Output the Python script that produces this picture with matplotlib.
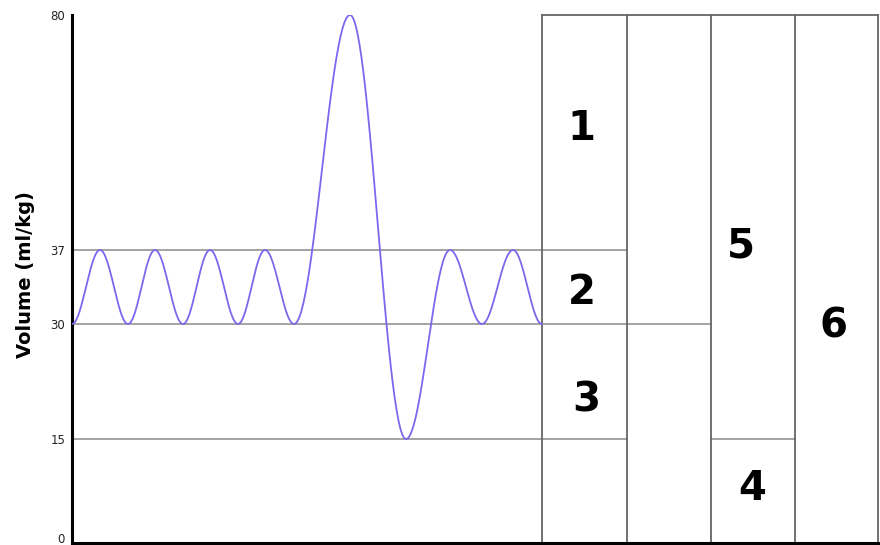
import numpy as np
import matplotlib
matplotlib.use("Agg")
import matplotlib.pyplot as plt

# Schematic volume axis: labelled values and the height (px) each sits at
TICK_VALUES = [0, 15, 30, 37, 80]
TICK_HEIGHTS = [0, 104, 219, 293, 528]

# Breathing trace turning points (time offset, volume in ml/kg)
BREATH_T = [0, 28, 56, 83, 111, 138, 166, 193, 222, 278, 334, 378, 410, 441, 470]
BREATH_V = [30, 37, 30, 37, 30, 37, 30, 37, 30, 80, 15, 37, 30, 37, 30]

# Column boundaries of the volume boxes
COLUMN_EDGES = [470, 555, 639, 723, 806]

# Horizontal reference levels: (volume, x start, x end)
LEVELS = [37, 30, 15, 15]
LEVEL_SPANS = [(0, 555), (0, 639), (0, 555), (639, 723)]

# Box numbers and where they go (x, volume)
BOX_LABELS = ["1", "2", "3", "4", "5", "6"]
BOX_POS = [(509, 59.1), (510, 32.9), (514, 20.0), (680, 7.8), (669, 37.7), (761, 29.7)]


def fwd(v):
    return np.interp(v, TICK_VALUES, TICK_HEIGHTS)


def inv(h):
    return np.interp(h, TICK_HEIGHTS, TICK_VALUES)


fig = plt.figure(figsize=(8.8, 5.45), dpi=100)
ax = fig.add_axes([72 / 880, 2 / 545, 806 / 880, 528 / 545])
ax.set_yscale("function", functions=(fwd, inv))
ax.set_xlim(0, 806)
ax.set_ylim(0, 80)

# smooth trace: cosine easing between turning points in screen height
xs, ys = [], []
for i in range(len(BREATH_T) - 1):
    t = np.linspace(0, 1, 60)
    h0, h1 = fwd(BREATH_V[i]), fwd(BREATH_V[i + 1])
    h = h0 + (h1 - h0) * (1 - np.cos(np.pi * t)) / 2
    xs.append(BREATH_T[i] + (BREATH_T[i + 1] - BREATH_T[i]) * t)
    ys.append(inv(h))
ax.plot(np.concatenate(xs), np.concatenate(ys), color="#7b68ee", lw=1.3, zorder=3)

for level, (x0, x1) in zip(LEVELS, LEVEL_SPANS):
    ax.plot([x0, x1], [level, level], color="#8a8a8a", lw=1.1, zorder=2)

for x in COLUMN_EDGES:
    ax.plot([x, x], [0, 80], color="#666666", lw=1.3, clip_on=False, zorder=2)
ax.plot([COLUMN_EDGES[0], COLUMN_EDGES[-1]], [80, 80], color="#666666", lw=1.3,
        clip_on=False, zorder=2)

for text, (x, v) in zip(BOX_LABELS, BOX_POS):
    ax.text(x, v, text, fontsize=29, fontweight="bold", ha="center", va="center")

ax.set_yticks(TICK_VALUES)
ax.set_yticklabels([str(v) for v in TICK_VALUES], fontsize=8.5, color="#222222")
ax.tick_params(axis="y", length=0, pad=5)
# bottom label sits on the axis line so it stays inside the figure
ax.get_yticklabels()[0].set_verticalalignment("baseline")
ax.set_xticks([])
ax.minorticks_off()

ax.spines["top"].set_visible(False)
ax.spines["right"].set_visible(False)
ax.spines["left"].set_linewidth(2.2)
ax.spines["bottom"].set_linewidth(2.2)

ax.set_ylabel("Volume (ml/kg)", fontsize=14, fontweight="bold")
ax.yaxis.set_label_coords(-0.046, 0.508)

fig.savefig("out.png", dpi=100)
